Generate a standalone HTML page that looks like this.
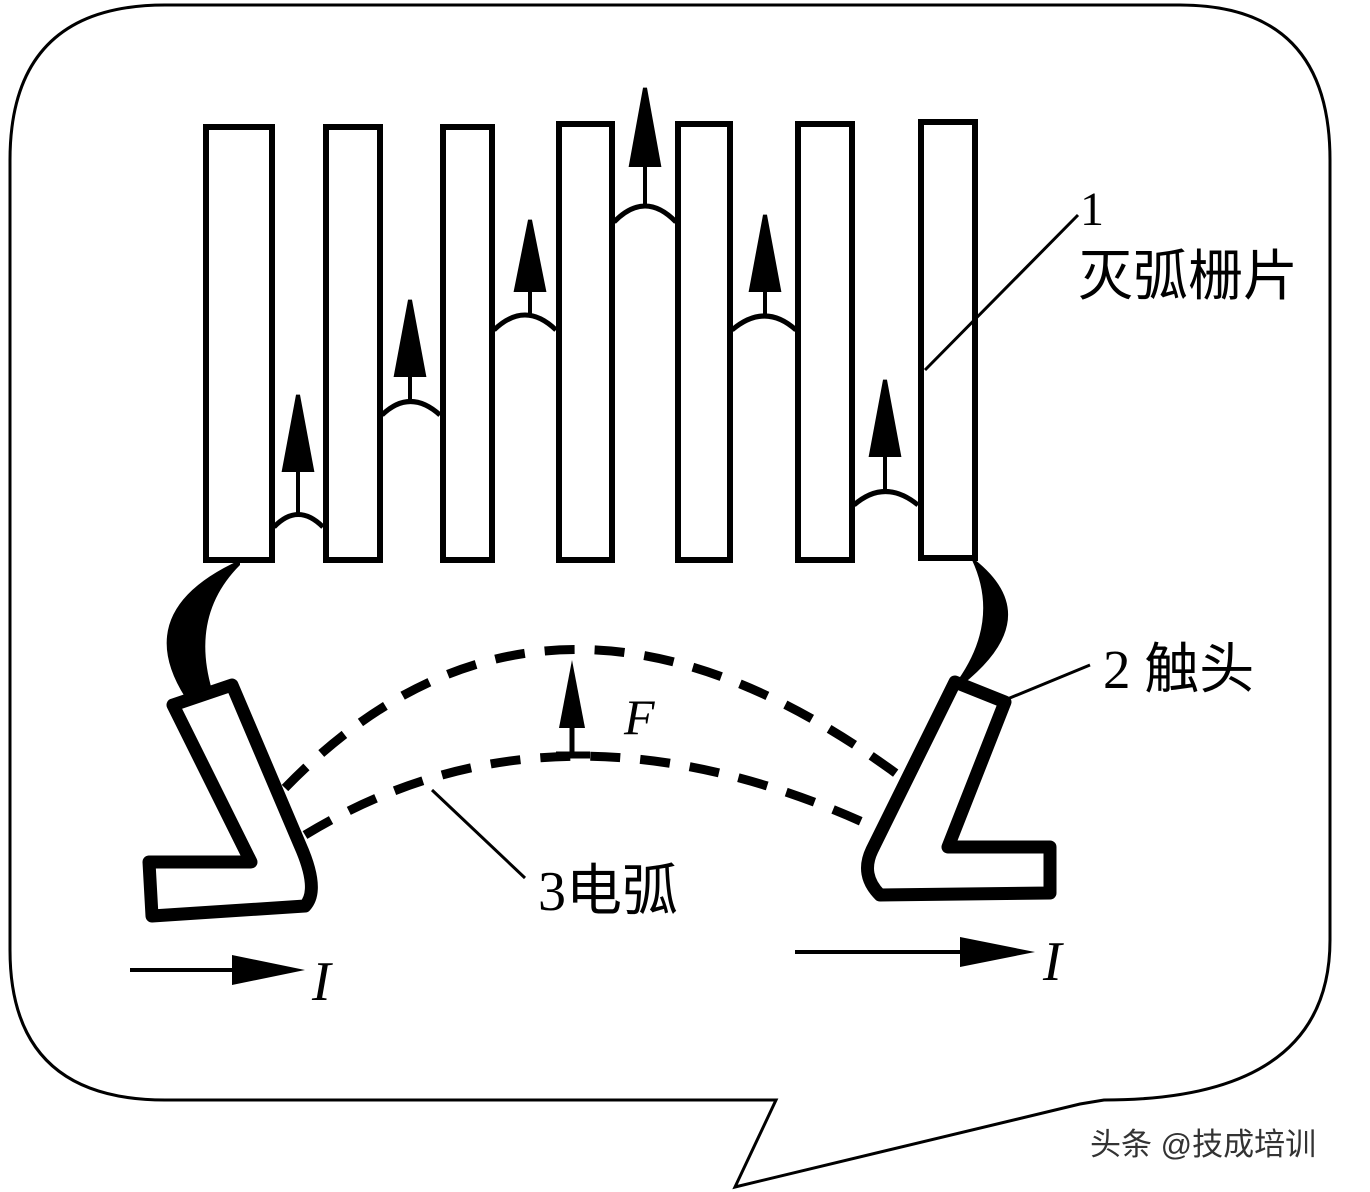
<!DOCTYPE html>
<html><head><meta charset="utf-8"><style>
body{margin:0;background:#fff;}
svg{display:block}
</style></head><body>
<svg width="1370" height="1192" viewBox="0 0 1370 1192" xmlns="http://www.w3.org/2000/svg">
<rect width="1370" height="1192" fill="#fff"/>
<path d="M165,5 L1180,5 Q1330,5 1330,160 L1330,940 Q1330,1100 1104,1100 L1080,1104 L735,1187 L776,1100 L165,1100 Q10,1100 10,950 L10,160 Q10,5 165,5 Z" fill="none" stroke="#000" stroke-width="3"/>
<g fill="none" stroke="#000" stroke-width="6">
<rect x="206" y="127" width="66" height="433"/>
<rect x="326" y="127" width="54" height="433"/>
<rect x="443" y="127" width="49" height="433"/>
<rect x="559" y="124" width="53" height="436"/>
<rect x="678" y="124" width="52" height="436"/>
<rect x="798" y="124" width="54" height="436"/>
<rect x="921" y="122" width="54" height="436"/>
</g>
<g fill="none" stroke="#000" stroke-width="5">
<path d="M274,527 Q298,502 323,527"/>
<path d="M382,415 Q410,388 440,415"/>
<path d="M494,330 Q525,300 556,330"/>
<path d="M614,222 Q645,190 676,222"/>
<path d="M732,330 Q765,302 796,330"/>
<path d="M854,505 Q885,478 918,505"/>
</g>
<g stroke="#000" stroke-width="4" fill="#000">
<line x1="298" y1="515" x2="298" y2="465"/><polygon points="298,395 284,470 312,470"/>
<line x1="410" y1="402" x2="410" y2="370"/><polygon points="410,300 396,375 424,375"/>
<line x1="530" y1="315" x2="530" y2="285"/><polygon points="530,220 516,290 544,290"/>
<line x1="645" y1="205" x2="645" y2="160"/><polygon points="645,88 631,165 659,165"/>
<line x1="765" y1="318" x2="765" y2="285"/><polygon points="765,215 751,290 779,290"/>
<line x1="885" y1="492" x2="885" y2="450"/><polygon points="885,380 871,455 899,455"/>
</g>
<path d="M240,560 Q130,610 185,697 L212,690 Q190,615 240,565 Z" fill="#000"/>
<path d="M970,556 Q1050,615 962,685 L958,680 Q1000,620 972,560 Z" fill="#000"/>
<path d="M173,705 L232,685 L300,845 Q320,890 305,906 L152,916 L149,862 L251,862 Z" fill="none" stroke="#000" stroke-width="13" stroke-linejoin="round"/>
<path d="M955,682 L1005,702 L948,847 L1050,847 L1050,893 L880,895 Q860,875 872,850 Z" fill="none" stroke="#000" stroke-width="13" stroke-linejoin="round"/>
<g fill="none" stroke="#000" stroke-width="9" stroke-dasharray="30,20">
<path d="M285,788 Q550,515 905,780"/>
<path d="M305,835 Q560,680 880,830"/>
</g>
<line x1="556" y1="755" x2="590" y2="755" stroke="#000" stroke-width="7"/>
<line x1="572" y1="755" x2="572" y2="720" stroke="#000" stroke-width="5"/>
<polygon points="572,660 559,728 585,728" fill="#000"/>
<text x="624" y="734" font-family="Liberation Serif, serif" font-style="italic" font-size="50">F</text>
<g stroke="#000" stroke-width="3">
<line x1="925" y1="370" x2="1078" y2="215"/>
<line x1="1005" y1="700" x2="1090" y2="665"/>
<line x1="432" y1="790" x2="525" y2="878"/>
</g>
<text x="1080" y="225" font-family="Liberation Serif, serif" font-size="48">1</text>
<text x="1078" y="295" font-family="Liberation Sans, 'Noto Sans CJK SC', sans-serif" font-size="55">灭弧栅片</text>
<text x="1103" y="688" font-family="Liberation Serif, 'Noto Sans CJK SC', serif" font-size="55">2 触头</text>
<text x="538" y="910" font-family="Liberation Serif, 'Noto Sans CJK SC', serif" font-size="56">3电弧</text>
<line x1="130" y1="970" x2="250" y2="970" stroke="#000" stroke-width="4"/>
<polygon points="305,970 232,955 232,985" fill="#000"/>
<text x="312" y="1000" font-family="Liberation Serif, serif" font-style="italic" font-size="56">I</text>
<line x1="795" y1="952" x2="975" y2="952" stroke="#000" stroke-width="4"/>
<polygon points="1035,952 960,937 960,967" fill="#000"/>
<text x="1043" y="980" font-family="Liberation Serif, serif" font-style="italic" font-size="56">I</text>
<text x="1090" y="1155" font-family="Liberation Sans, 'Noto Sans CJK SC', sans-serif" font-size="31" fill="#333">头条 @技成培训</text>
</svg>
</body></html>
